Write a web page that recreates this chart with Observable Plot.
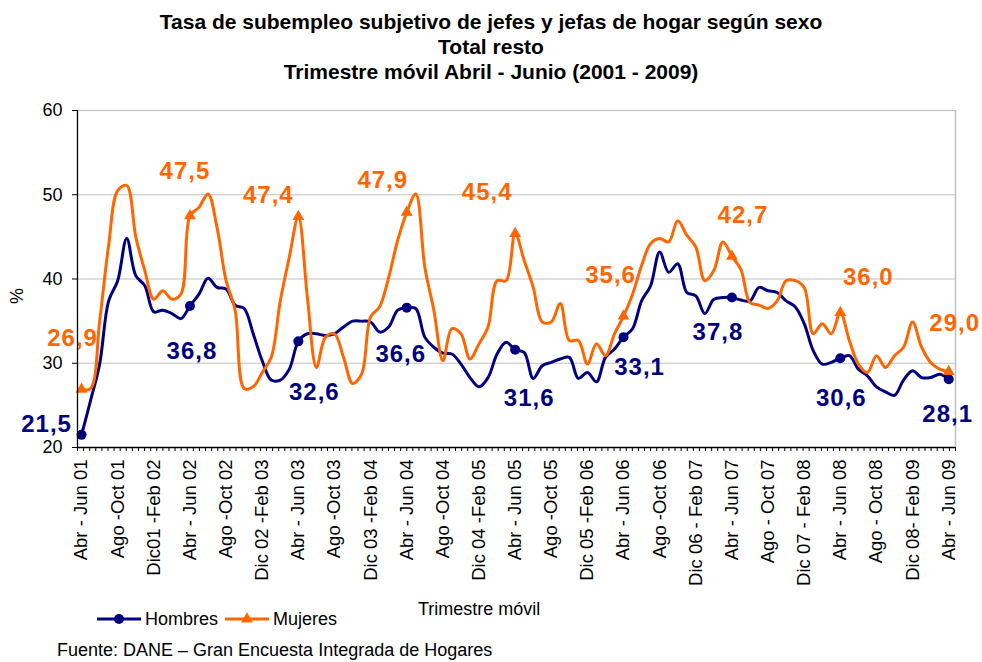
<!DOCTYPE html>
<html>
<head>
<meta charset="utf-8">
<script src="https://cdn.jsdelivr.net/npm/d3@7"></script>
<script src="https://cdn.jsdelivr.net/npm/@observablehq/plot@0.6"></script>
<style>
  body { margin: 0; background: #fff; font-family: 'Liberation Sans', Arial, sans-serif; }
  #wrap { position: relative; width: 982px; height: 662px; overflow: hidden; background: #fff; }
  #chart { position: absolute; left: 0; top: 0; }
  .title { position: absolute; left: 0; top: 9px; width: 982px; text-align: center; font-weight: bold; font-size: 21px; line-height: 25px; color: #000; }
  .xlabel { position: absolute; left: 418px; top: 599px; font-size: 18px; line-height: 20px; color: #000; }
  .ylabel { position: absolute; left: 17px; top: 296px; font-size: 18px; line-height: 20px; transform: translate(-50%, -50%) rotate(-90deg); color: #000; }
  .caption { position: absolute; left: 57px; top: 640px; font-size: 18px; line-height: 20px; color: #000; white-space: nowrap; }
  .legend { position: absolute; left: 96px; top: 607px; height: 24px; display: flex; align-items: center; font-size: 18px; color: #000; }
  .legend svg { display: block; }
  .legend span { margin-left: 3px; margin-right: 6px; }
</style>
</head>
<body>
<div id="wrap">
  <div id="chart"></div>
  <div class="title">Tasa de subempleo subjetivo de jefes y jefas de hogar según sexo<br>Total resto<br>Trimestre móvil Abril - Junio (2001 - 2009)</div>
  <div class="ylabel">%</div>
  <div class="xlabel">Trimestre móvil</div>
  <div class="legend" id="legend"></div>
  <div class="caption">Fuente: DANE – Gran Encuesta Integrada de Hogares</div>
</div>
<script>
// ---- Data: monthly rolling quarters, Abr-Jun 2001 ... Abr-Jun 2009 ----
const hombres = [
  21.5, 25.6, 29.9, 37.4, 39.8, 44.8, 40.4, 39.2, 36.1, 36.3, 35.9, 35.3,
  36.8, 38.2, 40.1, 39.0, 38.8, 36.9, 36.5, 33.5, 30.3, 28.0, 28.0, 29.3,
  32.6, 33.5, 33.5, 33.3, 33.5, 34.3, 35.0, 35.0, 34.9, 33.7, 34.3, 36.3,
  36.6, 36.5, 33.1, 31.9, 31.2, 31.1, 29.9, 28.3, 27.2, 28.3, 31.1, 32.5,
  31.6, 31.3, 28.2, 29.7, 30.1, 30.5, 30.7, 28.2, 28.9, 27.8, 30.7, 31.7,
  33.1, 34.1, 37.4, 39.2, 43.2, 40.8, 41.8, 38.4, 38.0, 35.9, 37.6, 37.8,
  37.8, 37.5, 37.4, 39.0, 38.6, 38.4, 37.4, 36.7, 34.7, 31.5, 29.9, 30.1,
  30.6, 30.9, 29.3, 28.5, 27.2, 26.6, 26.2, 28.0, 29.1, 28.3, 28.3, 28.7,
  28.1
];
const mujeres = [
  26.9, 27.0, 35.0, 44.0, 50.5, 51.1, 45.0, 41.0, 37.6, 38.6, 37.6, 38.2,
  47.5, 48.5, 50.1, 46.1, 39.8, 36.3, 27.0, 27.2, 28.9, 30.7, 37.4, 42.6,
  47.4, 37.8, 29.5, 33.1, 33.5, 30.7, 27.6, 28.7, 35.5, 36.7, 40.2, 44.6,
  47.9, 50.1, 41.4, 36.3, 30.3, 34.1, 33.5, 30.5, 32.3, 34.3, 39.8, 39.8,
  45.4, 42.2, 39.0, 34.9, 34.9, 37.1, 32.7, 32.7, 29.9, 32.3, 30.9, 33.5,
  35.6, 38.2, 41.6, 44.2, 44.8, 44.4, 46.9, 45.2, 43.8, 39.8, 41.0, 44.4,
  42.7, 41.1, 37.2, 36.9, 36.5, 37.4, 39.8, 39.8, 39.0, 33.5, 34.7, 33.5,
  36.0, 32.7, 29.9, 28.9, 30.9, 29.5, 30.9, 31.9, 34.9, 31.9, 30.1, 29.3,
  29.0
];
const tickLabels = [
  "Abr - Jun 01", "Ago -Oct 01", "Dic01 -Feb 02", "Abr - Jun 02", "Ago -Oct 02",
  "Dic 02 -Feb 03", "Abr - Jun 03", "Ago -Oct 03", "Dic 03 -Feb 04", "Abr - Jun 04",
  "Ago -Oct 04", "Dic 04 -Feb 05", "Abr - Jun 05", "Ago -Oct 05", "Dic 05 -Feb 06",
  "Abr - Jun 06", "Ago -Oct 06", "Dic 06 - Feb 07", "Abr - Jun 07", "Ago - Oct 07",
  "Dic 07 - Feb 08", "Abr - Jun 08", "Ago - Oct 08", "Dic 08- Feb 09", "Abr - Jun 09"
];
const yTicks = [20, 30, 40, 50, 60];
const seriesNames = ["Hombres", "Mujeres"];

// ---- Styling ----
const NAVY = "#000080", ORANGE = "#ff6600", GRID = "#c0c0c0";
const xMin = -0.45, xMax = 96.75;
// label offsets (px) for annotated Abr-Jun values
const hOff = [[-35,-11],[2,45],[16,51],[-6,47],[14,49],[16,30],[-14,35],[1,40],[-1,35]];
const mOff = [[-9,-51],[-5,-45],[-30,-21],[-24,-32],[-28,-41],[-13,-41],[11,-41],[28,-35],[6,-48]];

const fmt = v => d3.format(".1f")(v).replace(".", ",");
const markerIdx = d3.range(0, hombres.length, 12);
const labelTicks = tickLabels.map((_, k) => k * 4);
const minorTicks = d3.range(145).map(k => xMin + k * (xMax - xMin) / 144);

const labelMarks = [];
markerIdx.forEach((i, k) => {
  labelMarks.push(Plot.text([{i, v: hombres[i]}], {
    x: "i", y: "v", text: d => fmt(d.v), dx: hOff[k][0], dy: hOff[k][1],
    fill: NAVY, fontSize: 24, fontWeight: "bold"
  }));
  labelMarks.push(Plot.text([{i, v: mujeres[i]}], {
    x: "i", y: "v", text: d => fmt(d.v), dx: mOff[k][0], dy: mOff[k][1],
    fill: ORANGE, fontSize: 24, fontWeight: "bold"
  }));
});

const chart = Plot.plot({
  width: 982,
  height: 662,
  marginTop: 110,
  marginBottom: 215,
  marginLeft: 77,
  marginRight: 27,
  style: { fontFamily: "'Liberation Sans', Arial, sans-serif", fontSize: "18px", background: "transparent", overflow: "visible", color: "#000" },
  x: { type: "linear", domain: [xMin, xMax] },
  y: { domain: [20, 60] },
  marks: [
    Plot.ruleY(yTicks.slice(1), { stroke: GRID, strokeWidth: 1.2 }),
    Plot.ruleX([xMax], { stroke: GRID, strokeWidth: 1.5 }),
    Plot.lineY(hombres, { x: (d, i) => i, y: d => d, stroke: NAVY, strokeWidth: 3, curve: "catmull-rom" }),
    Plot.dot(markerIdx, { x: i => i, y: i => hombres[i], r: 5, fill: NAVY, stroke: null }),
    Plot.lineY(mujeres, { x: (d, i) => i, y: d => d, stroke: ORANGE, strokeWidth: 3, curve: "catmull-rom" }),
    Plot.dot(markerIdx, { x: i => i, y: i => mujeres[i], symbol: "triangle", r: 4.4, fill: ORANGE, stroke: null }),
    ...labelMarks,
    Plot.ruleY([20], { stroke: "#000", strokeWidth: 1.3 }),
    Plot.ruleX([xMin], { stroke: "#000", strokeWidth: 1.3 }),
    Plot.axisY(yTicks, { tickSize: 5, tickPadding: 10, fontSize: 18, label: null, stroke: "#000", fill: "#000" }),
    Plot.axisX(minorTicks, { tickSize: 4, fill: "none", label: null, stroke: "#000" }),
    Plot.axisX(labelTicks, { tickSize: 0, tickPadding: 12, tickRotate: -90, fontSize: 18.5, label: null,
      tickFormat: d => tickLabels[Math.round(d / 4)], fill: "#000" })
  ]
});
chart.classList.add("plot");
document.getElementById("chart").appendChild(chart);

// slightly widen the bold value labels (the original's text is horizontally stretched)
d3.select(chart).selectAll("text")
  .filter(function () { return /^\d+,\d$/.test(this.textContent); })
  .style("letter-spacing", "1px");

// ---- Legend ----
const legend = d3.select("#legend");
seriesNames.forEach((name, k) => {
  const s = legend.append("svg").attr("width", 46).attr("height", 14);
  s.append("line").attr("x1", 1).attr("x2", 45).attr("y1", 7).attr("y2", 7)
    .attr("stroke", k === 0 ? NAVY : ORANGE).attr("stroke-width", 3);
  if (k === 0) {
    s.append("circle").attr("cx", 23).attr("cy", 7).attr("r", 5).attr("fill", NAVY);
  } else {
    s.append("path").attr("d", d3.symbol(d3.symbolTriangle, 60)()).attr("transform", "translate(23,7)").attr("fill", ORANGE);
  }
  legend.append("span").text(name);
});
</script>
</body>
</html>
